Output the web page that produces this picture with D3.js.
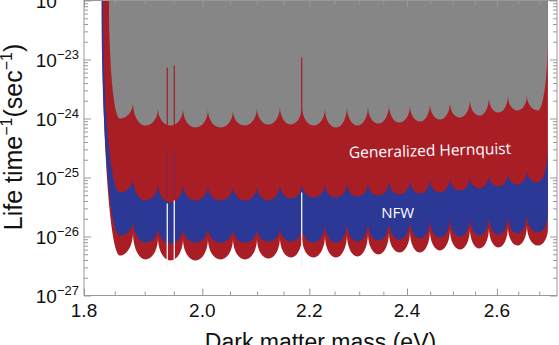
<!DOCTYPE html>
<html><head><meta charset="utf-8">
<script src="https://cdn.jsdelivr.net/npm/d3@7"></script>
<style>body{margin:0;background:#fff;}svg{display:block;}</style>
</head><body>
<svg id="c" width="559" height="345"></svg>
<script>
// ---------------- data ----------------
// masses (eV) of the cusps shared by all boundaries, and of the arc bottoms
const cuspMass = [1.8803,1.9226,1.9659,2.0101,2.0554,2.0998,2.1432,2.1856,2.2309,2.2750,2.3180,2.3617,2.4063,2.4495,2.4935,2.5383,2.5817,2.6257,2.6705];
const dipMass  = [1.8586,1.9013,1.9441,1.9879,2.0326,2.0775,2.1214,2.1643,2.2081,2.2528,2.2964,2.3397,2.3839,2.4278,2.4714,2.5158,2.5599,2.6036,2.6480,2.6968];

// gray (excluded) region lower boundary
const grayStart = [1.8405, 1e-22];
const grayCusp = [1.87e-24,1.48e-24,1.48e-24,1.42e-24,1.37e-24,1.54e-24,1.60e-24,1.66e-24,1.48e-24,1.60e-24,1.60e-24,1.73e-24,1.66e-24,1.80e-24,1.87e-24,2.10e-24,2.27e-24,2.45e-24,2.45e-24];
const grayDip  = [1.00e-24,7.61e-25,7.61e-25,7.04e-25,7.04e-25,7.61e-25,7.91e-25,7.91e-25,7.61e-25,7.04e-25,7.61e-25,8.23e-25,8.55e-25,8.90e-25,9.62e-25,1.04e-24,1.12e-24,1.26e-24,1.37e-24,1.37e-24];
const grayEnd = [2.7209, 2.76e-23];

// Generalized Hernquist lower boundary
const ghStart = [1.8291, 1e-22];
const ghCusp = [1.17e-26,9.62e-27,9.25e-27,9.25e-27,9.25e-27,9.25e-27,9.62e-27,1.00e-26,1.04e-26,1.08e-26,1.12e-26,1.17e-26,1.22e-26,1.26e-26,1.31e-26,1.37e-26,1.42e-26,1.48e-26,1.54e-26];
const ghDip  = [4.76e-27,4.08e-27,3.92e-27,3.92e-27,4.08e-27,4.08e-27,4.24e-27,4.41e-27,4.41e-27,4.41e-27,4.58e-27,4.95e-27,5.36e-27,5.36e-27,5.79e-27,6.02e-27,6.26e-27,6.51e-27,7.04e-27,7.04e-27];
const ghEnd = [2.7209, 1.37e-26];

// NFW band upper boundary
const nfwHiStart = [1.8307, 1e-22];
const nfwHiCusp = [1.00e-25,7.91e-26,7.91e-26,7.32e-26,7.32e-26,7.32e-26,7.91e-26,7.91e-26,7.91e-26,8.23e-26,8.23e-26,8.90e-26,9.25e-26,9.62e-26,1.00e-25,1.04e-25,1.12e-25,1.22e-25,1.31e-25];
const nfwHiDip  = [5.57e-26,4.08e-26,3.77e-26,4.08e-26,4.08e-26,4.08e-26,4.08e-26,4.41e-26,4.58e-26,4.58e-26,4.76e-26,4.95e-26,5.15e-26,5.36e-26,5.57e-26,6.02e-26,6.51e-26,7.04e-26,7.61e-26,8.23e-26];
const nfwHiEnd = [2.7209, 3.49e-25];

// NFW band lower boundary
const nfwLoStart = [1.8283, 1e-22];
const nfwLoCusp = [1.87e-26,1.42e-26,1.42e-26,1.42e-26,1.37e-26,1.37e-26,1.42e-26,1.48e-26,1.66e-26,1.73e-26,1.80e-26,1.87e-26,1.94e-26,2.02e-26,2.10e-26,2.18e-26,2.27e-26,2.36e-26,2.45e-26];
const nfwLoDip  = [1.04e-26,7.91e-27,7.61e-27,7.91e-27,7.91e-27,7.91e-27,8.23e-27,8.23e-27,7.91e-27,7.91e-27,8.23e-27,8.55e-27,8.90e-27,9.25e-27,9.62e-27,1.00e-26,1.04e-26,1.08e-26,1.12e-26,1.17e-26];
const nfwLoEnd = [2.7209, 2.45e-26];

// narrow spectral features
const spikeMass     = [1.9386, 1.9507, 2.1851];
const redSpikeTop   = [7.32e-24, 7.91e-24, 1.08e-23];
const redSpikeBase  = [7.0e-25, 7.0e-25, 7.0e-25];
const blueSpikeTop  = [2.87e-25, 2.87e-25, null];
const blueSpikeBase = [4.5e-26, 4.5e-26, null];
const whiteSpikeTop = [3.62e-26, 4.08e-26, 5.57e-26];
const whiteSpikeBase= [3.0e-27, 3.0e-27, 3.0e-27];

// axes
const xMajor = [1.8, 2.0, 2.2, 2.4, 2.6];
const xMinor = [1.85,1.9,1.95,2.05,2.1,2.15,2.25,2.3,2.35,2.45,2.5,2.55,2.65,2.7];
const yMajorExp = [-27,-26,-25,-24,-23,-22];
const xDomain = [1.8, 2.743];
const yDomain = [1e-27, 1e-22];

// ---------------- drawing ----------------
const L = 84, R = 557, T = 0.5, B = 295.5;
const x = d3.scaleLog().domain(xDomain).range([L, R]);
const y = d3.scaleLog().domain(yDomain).range([B, T]);
const svg = d3.select("#c");

svg.append("defs").append("clipPath").attr("id","pc")
  .append("rect").attr("x",L).attr("y",T).attr("width",R-L).attr("height",B-T);

function buildPts(start, cusps, dips, end){
  const pts = [{m:start[0], v:start[1], t:"c"}];
  dips.forEach((d,i)=>{
    pts.push({m:dipMass[i], v:d, t:"d"});
    if (i < cusps.length) pts.push({m:cuspMass[i], v:cusps[i], t:"c"});
  });
  pts.push({m:end[0], v:end[1], t:"c"});
  return pts;
}
const K = 0.5523;
function trace(p, pts, move){
  pts.forEach((q,i)=>{
    const X = x(q.m), Y = y(q.v);
    if (i===0){ move ? p.moveTo(X,Y) : p.lineTo(X,Y); return; }
    const a = pts[i-1], AX = x(a.m), AY = y(a.v);
    if (a.t==="c" && q.t==="d") p.bezierCurveTo(AX, AY + K*(Y-AY), X - K*(X-AX), Y, X, Y);
    else if (a.t==="d" && q.t==="c") p.bezierCurveTo(AX + K*(X-AX), AY, X, Y + K*(AY-Y), X, Y);
    else p.lineTo(X,Y);
  });
}

const g = svg.append("g").attr("clip-path","url(#pc)");
const RED = "#a91d25", BLUE = "#2b3896", GRAY = "#868686";

// red: Generalized Hernquist
{
  const pts = buildPts(ghStart, ghCusp, ghDip, ghEnd);
  const p = d3.path(); trace(p, pts, true);
  p.lineTo(x(ghEnd[0]), y(yDomain[1])); p.lineTo(x(ghStart[0]), y(yDomain[1])); p.closePath();
  g.append("path").attr("d", p.toString()).attr("fill", RED);
}
// blue: NFW
{
  const hi = buildPts(nfwHiStart, nfwHiCusp, nfwHiDip, nfwHiEnd);
  const lo = buildPts(nfwLoStart, nfwLoCusp, nfwLoDip, nfwLoEnd).reverse();
  const p = d3.path(); trace(p, hi, true); trace(p, lo, false); p.closePath();
  g.append("path").attr("d", p.toString()).attr("fill", BLUE);
}
// faint blue spikes into red
spikeMass.forEach((m,i)=>{
  if (blueSpikeTop[i]==null) return;
  g.append("line").attr("x1",x(m)).attr("x2",x(m)).attr("y1",y(blueSpikeBase[i])).attr("y2",y(blueSpikeTop[i]))
   .attr("stroke",BLUE).attr("stroke-width",0.8).attr("stroke-opacity",0.6);
});
// white gaps
spikeMass.forEach((m,i)=>{
  g.append("line").attr("x1",x(m)).attr("x2",x(m)).attr("y1",y(whiteSpikeBase[i])).attr("y2",y(whiteSpikeTop[i]))
   .attr("stroke","#f4f4f8").attr("stroke-width",1.3);
});
// gray region
{
  const pts = buildPts(grayStart, grayCusp, grayDip, grayEnd);
  const p = d3.path(); trace(p, pts, true);
  p.lineTo(x(grayEnd[0]), y(yDomain[1])); p.lineTo(x(grayStart[0]), y(yDomain[1])); p.closePath();
  g.append("path").attr("d", p.toString()).attr("fill", GRAY);
}
// red spikes into gray
spikeMass.forEach((m,i)=>{
  g.append("line").attr("x1",x(m)).attr("x2",x(m)).attr("y1",y(redSpikeBase[i])).attr("y2",y(redSpikeTop[i]))
   .attr("stroke",RED).attr("stroke-width",1.2);
});

// ---------------- axes ----------------
const AX = "#999";
function styleAxis(sel){ sel.select(".domain").remove(); sel.selectAll("line").attr("stroke",AX); sel.selectAll("text").remove(); }
const yMajorVals = yMajorExp.map(e=>Math.pow(10,e));
const yMinorVals = [];
yMajorExp.slice(0,-1).forEach(e=>{ for(let k=2;k<=9;k++) yMinorVals.push(k*Math.pow(10,e)); });

svg.append("g").attr("transform",`translate(0,${B})`).call(d3.axisBottom(x).tickValues(xMajor).tickSize(-7)).call(styleAxis);
svg.append("g").attr("transform",`translate(0,${B})`).call(d3.axisBottom(x).tickValues(xMinor).tickSize(-4)).call(styleAxis);
svg.append("g").attr("transform",`translate(0,${T})`).call(d3.axisTop(x).tickValues(xMajor).tickSize(-7)).call(styleAxis);
svg.append("g").attr("transform",`translate(0,${T})`).call(d3.axisTop(x).tickValues(xMinor).tickSize(-4)).call(styleAxis);
svg.append("g").attr("transform",`translate(${L},0)`).call(d3.axisLeft(y).tickValues(yMajorVals).tickSize(-7)).call(styleAxis);
svg.append("g").attr("transform",`translate(${L},0)`).call(d3.axisLeft(y).tickValues(yMinorVals).tickSize(-4)).call(styleAxis);
svg.append("g").attr("transform",`translate(${R},0)`).call(d3.axisRight(y).tickValues(yMajorVals).tickSize(-7)).call(styleAxis);
svg.append("g").attr("transform",`translate(${R},0)`).call(d3.axisRight(y).tickValues(yMinorVals).tickSize(-4)).call(styleAxis);
svg.append("rect").attr("x",L).attr("y",T).attr("width",R-L).attr("height",B-T).attr("fill","none").attr("stroke",AX).attr("stroke-width",1);

const FONT = "'Liberation Sans', Arial, Helvetica, sans-serif";
// x tick labels
svg.append("g").selectAll("text").data(xMajor).join("text")
  .attr("x", d=>x(d)).attr("y", 317).attr("text-anchor","middle")
  .attr("font-family",FONT).attr("font-size",19).attr("fill","#111")
  .text(d=>d.toFixed(1));
// y tick labels
const yl = svg.append("g").selectAll("text").data(yMajorExp).join("text")
  .attr("x", 79).attr("y", d=>y(Math.pow(10,d))+7).attr("text-anchor","end")
  .attr("font-family",FONT).attr("font-size",19).attr("fill","#111");
yl.append("tspan").text("10");
yl.append("tspan").attr("dy",-8).attr("font-size",13).text(d=>"\u2212"+Math.abs(d));

// axis titles
svg.append("text").attr("x",(L+R)/2).attr("y",350).attr("text-anchor","middle")
  .attr("font-family",FONT).attr("font-size",23).attr("fill","#111").text("Dark matter mass (eV)");
const yt = svg.append("text").attr("transform","translate(22,137) rotate(-90)").attr("text-anchor","middle")
  .attr("font-family",FONT).attr("font-size",25).attr("fill","#111");
yt.append("tspan").text("Life time");
yt.append("tspan").attr("dy",-10).attr("font-size",16).text("\u22121");
yt.append("tspan").attr("dy",10).text("(sec");
yt.append("tspan").attr("dy",-10).attr("font-size",16).text("\u22121");
yt.append("tspan").attr("dy",10).text(")");

// region labels
const LF = "'Open Sans', Roboto, sans-serif";
svg.append("text").attr("transform",`translate(${x(2.45)},156) rotate(-1.5)`).attr("text-anchor","middle")
  .attr("font-family",LF).attr("font-size",15.5).attr("fill","#fff").text("Generalized Hernquist");
svg.append("text").attr("x",x(2.38)).attr("y",218).attr("text-anchor","middle")
  .attr("font-family",LF).attr("font-size",15).attr("fill","#fff").text("NFW");
</script>
</body></html>
